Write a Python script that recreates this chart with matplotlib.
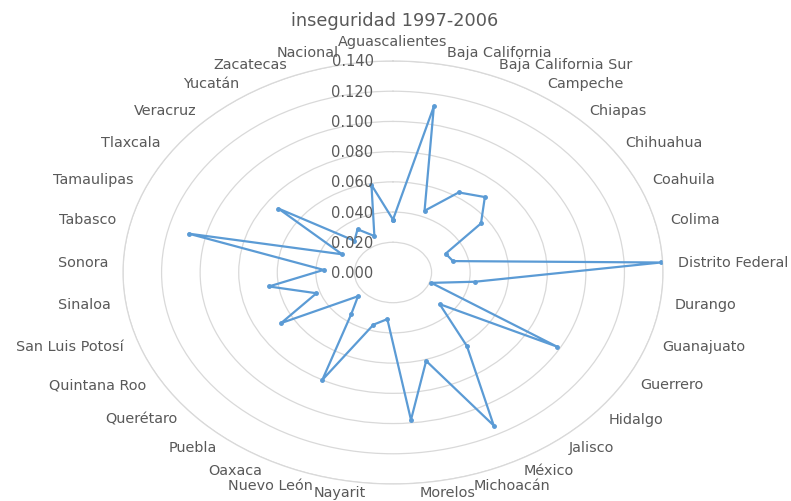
import numpy as np
import matplotlib
matplotlib.use('Agg')
import matplotlib.pyplot as plt

# estados (orden del eje, en sentido horario desde arriba)
estados = ['Aguascalientes', 'Baja California', 'Baja California Sur', 'Campeche',
           'Chiapas', 'Chihuahua', 'Coahuila', 'Colima', 'Distrito Federal',
           'Durango', 'Guanajuato', 'Guerrero', 'Hidalgo', 'Jalisco', 'México',
           'Michoacán', 'Morelos', 'Nayarit', 'Nuevo León', 'Oaxaca', 'Puebla',
           'Querétaro', 'Quintana Roo', 'San Luis Potosí', 'Sinaloa', 'Sonora',
           'Tabasco', 'Tamaulipas', 'Tlaxcala', 'Veracruz', 'Yucatán',
           'Zacatecas', 'Nacional']

inseguridad = [0.035, 0.112, 0.044, 0.063, 0.069, 0.056, 0.030, 0.032, 0.139,
               0.043, 0.021, 0.098, 0.032, 0.062, 0.114, 0.061, 0.098, 0.031,
               0.036, 0.080, 0.035, 0.024, 0.067, 0.042, 0.065, 0.036, 0.109,
               0.029, 0.073, 0.029, 0.034, 0.026, 0.059]

r_ticks = [0.02, 0.04, 0.06, 0.08, 0.10, 0.12, 0.14]
r_labels = ['0.000', '0.020', '0.040', '0.060', '0.080', '0.100', '0.120', '0.140']

gris = '#595959'
azul = '#5b9bd5'

fig = plt.figure(figsize=(7.91, 5.02), dpi=100)
ax = fig.add_axes([0.1555, 0.0339, 0.6827, 0.8426], projection='polar')
ax.set_aspect('auto')  # el grafico original esta estirado en horizontal
ax.set_theta_zero_location('N')
ax.set_theta_direction(-1)

n = len(estados)
ang = np.arange(n) * 2 * np.pi / n
ang_c = np.append(ang, ang[0])
val_c = np.append(inseguridad, inseguridad[0])

ax.plot(ang_c, val_c, color=azul, lw=1.6, marker='o', ms=2.5, zorder=3)

ax.set_ylim(0, 0.14)
ax.set_yticks(r_ticks)
ax.set_yticklabels([])
ax.set_xticks(ang)
ax.set_xticklabels([])
ax.xaxis.grid(False)
ax.yaxis.grid(True, color='#d9d9d9', lw=0.9)
ax.spines['polar'].set_color('#d9d9d9')
ax.spines['polar'].set_linewidth(0.9)
ax.tick_params(length=0)

# etiquetas del eje radial
for i, lab in enumerate(r_labels):
    ax.annotate(lab, xy=(0, i * 0.02), xytext=(-14, 0), textcoords='offset points',
                ha='right', va='center', fontsize=10.5, color=gris,
                annotation_clip=False, zorder=4)

# etiquetas de categorias
for a, lab in zip(ang, estados):
    s, c = np.sin(a), np.cos(a)
    if abs(s) < 0.01:
        ha = 'center'
    elif s > 0:
        ha = 'left'
    else:
        ha = 'right'
    va = 'bottom' if c > 0.99 else 'center'
    dy = 9.7 * c if c > 0 else (9.7 - 3.0 * c * c) * c
    ax.annotate(lab, xy=(a, 0.14), xytext=(10.8 * s, dy),
                textcoords='offset points', ha=ha, va=va, fontsize=10.4,
                color=gris, annotation_clip=False)

fig.text(0.4987, 0.959, 'inseguridad 1997-2006', ha='center', va='center',
         fontsize=12.8, color=gris)

fig.savefig('out.png', dpi=100)
